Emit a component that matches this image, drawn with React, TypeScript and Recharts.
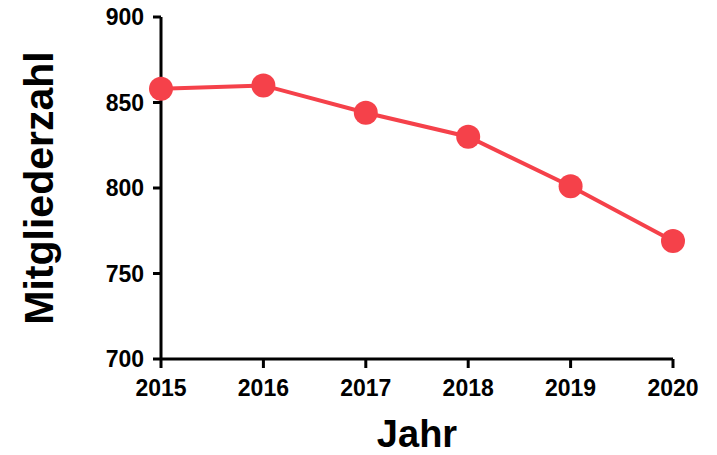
import { LineChart, Line, XAxis, YAxis } from 'recharts';

const YEARS = [2015, 2016, 2017, 2018, 2019, 2020];
const MEMBERS = [858, 860, 844, 830, 801, 769];
const Y_TICKS = [700, 750, 800, 850, 900];

const RED = '#F5414A';
const FONT = '"Liberation Sans", Arial, Helvetica, sans-serif';

const data = YEARS.map((year, i) => ({ year, members: MEMBERS[i] }));

const tickStyle = { fill: '#000', fontSize: 23, fontWeight: 700, fontFamily: FONT };

function YLabel(props: any) {
  const vb = props.viewBox || { x: 0, y: 0, height: 0 };
  const cx = vb.x + 53;
  const cy = vb.y + vb.height / 2;
  return (
    <text
      x={cx}
      y={cy}
      transform={`rotate(-90, ${cx}, ${cy})`}
      textAnchor="middle"
      fill="#000"
      fontSize={41}
      fontWeight={700}
      fontFamily={FONT}
    >
      Mitgliederzahl
    </text>
  );
}

function XLabel(props: any) {
  const vb = props.viewBox || { x: 0, y: 0, width: 0 };
  return (
    <text
      x={vb.x + vb.width / 2}
      y={vb.y + 88}
      textAnchor="middle"
      fill="#000"
      fontSize={38}
      fontWeight={700}
      fontFamily={FONT}
    >
      Jahr
    </text>
  );
}

export default function App() {
  return (
    <div style={{ position: 'absolute', left: 0, top: 0, background: '#fff' }}>
      <LineChart
        width={717}
        height={455}
        data={data}
        margin={{ top: 17, right: 44, left: 0, bottom: 0 }}
      >
        <XAxis
          dataKey="year"
          type="number"
          domain={[2015, 2020]}
          ticks={YEARS}
          height={96}
          tick={tickStyle}
          tickSize={9}
          tickMargin={12}
          axisLine={{ stroke: '#000', strokeWidth: 3 }}
          tickLine={{ stroke: '#000', strokeWidth: 3 }}
          label={<XLabel />}
        />
        <YAxis
          domain={[700, 900]}
          ticks={Y_TICKS}
          width={161}
          tick={tickStyle}
          tickSize={8}
          tickMargin={9}
          axisLine={{ stroke: '#000', strokeWidth: 3 }}
          tickLine={{ stroke: '#000', strokeWidth: 3 }}
          label={<YLabel />}
        />
        <Line
          dataKey="members"
          stroke={RED}
          strokeWidth={4}
          dot={{ r: 12, fill: RED, stroke: RED, strokeWidth: 0 }}
          activeDot={false}
          isAnimationActive={false}
        />
      </LineChart>
    </div>
  );
}
